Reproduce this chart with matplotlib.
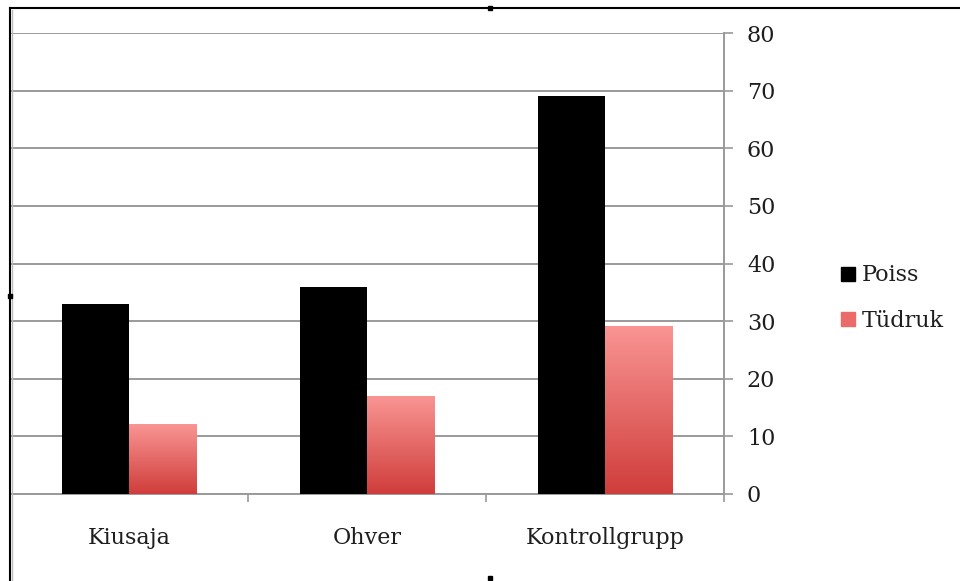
import numpy as np
import matplotlib
matplotlib.use("Agg")
import matplotlib.pyplot as plt
from matplotlib.lines import Line2D
from matplotlib.colors import LinearSegmentedColormap

categories = ["Kiusaja", "Ohver", "Kontrollgrupp"]
series_names = ["Poiss", "Tüdruk"]
poiss = [33, 36, 69]
tudruk = [12, 17, 29]
y_ticks = [0, 10, 20, 30, 40, 50, 60, 70, 80]

plt.rcParams["font.family"] = ["DejaVu Serif"]

W, H = 960, 581
fig = plt.figure(figsize=(W / 100, H / 100), dpi=100)
fig.patch.set_facecolor("white")

ax = fig.add_axes([10 / W, 87 / H, 714 / W, 461 / H])
ax.set_xlim(-0.5, len(categories) - 0.5)
ax.set_ylim(0, 80)

grid_col = "#9a9a9a"
text_col = "#1e1e1e"
fs = 16
bw = 0.283
x = np.arange(len(categories))

# black bars for the first series
ax.bar(x - bw / 2, poiss, width=bw, color="black", zorder=3)

# red bars with a vertical gradient for the second series
red_cmap = LinearSegmentedColormap.from_list("redgrad", ["#cf3d3b", "#f99593"])
grad = np.linspace(0, 1, 256).reshape(-1, 1)
for xi, v in zip(x, tudruk):
    ax.imshow(grad, cmap=red_cmap, origin="lower", aspect="auto",
              extent=[xi, xi + bw, 0, v], zorder=3, interpolation="bicubic")
ax.set_xlim(-0.5, len(categories) - 0.5)
ax.set_ylim(0, 80)

# horizontal grid
for t in y_ticks:
    ax.axhline(t, color=grid_col, lw=1.4, zorder=1)

for s in ["left", "top"]:
    ax.spines[s].set_visible(False)
ax.spines["right"].set_color(grid_col)
ax.spines["right"].set_linewidth(1.4)
ax.spines["bottom"].set_color(grid_col)
ax.spines["bottom"].set_linewidth(1.4)

ax.yaxis.tick_right()
ax.set_yticks(y_ticks)
ax.set_yticklabels([str(t) for t in y_ticks])
ax.tick_params(axis="y", direction="out", length=6.5, width=1.2, color=grid_col,
               pad=10, labelsize=fs, labelcolor=text_col)

ax.set_xticks(x)
ax.set_xticklabels(categories)
ax.set_xticks([0.5, 1.5, 2.5], minor=True)
ax.tick_params(axis="x", which="major", length=0, pad=24, labelsize=fs,
               labelcolor=text_col)
ax.tick_params(axis="x", which="minor", direction="out", length=6, width=1.2,
               color=grid_col)

handles = [
    Line2D([], [], marker="s", ls="", color="black", markersize=9.5),
    Line2D([], [], marker="s", ls="", color="#ea6b69", markersize=9.5),
]
fig.legend(handles, series_names, loc="center left",
           bbox_to_anchor=(838 / W, 1 - 298 / H), frameon=False,
           fontsize=fs, handlelength=0.9, handletextpad=0.15,
           borderpad=0, borderaxespad=0,
           labelspacing=1.05, labelcolor=text_col)

# selection frame drawn around the chart
fig.add_artist(Line2D([10 / W, 1], [1 - 8 / H, 1 - 8 / H], color="black", lw=1.5))
fig.add_artist(Line2D([10 / W, 10 / W], [0, 1 - 8 / H], color="black", lw=1.5))
fig.add_artist(Line2D([12 / W, 12 / W], [0, 1 - 10 / H], color="#bbbbbb", lw=1.0))
for hx, hy in [(490, 8), (10, 296), (490, 578)]:
    fig.add_artist(Line2D([hx / W], [1 - hy / H], marker="s", color="black",
                          markersize=2.5, ls=""))

fig.savefig("out.png", dpi=100, facecolor="white")
